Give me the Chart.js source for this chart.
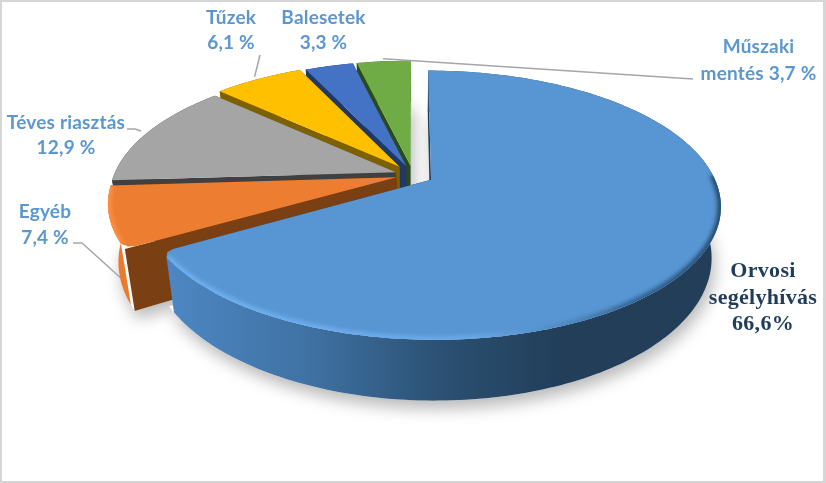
<!DOCTYPE html>
<html>
<head>
<meta charset="utf-8">
<style>
  html, body { margin: 0; padding: 0; background: #fff; }
  #wrap { width: 826px; height: 483px; box-sizing: border-box; border: 2px solid #d6d6d6; border-right-width: 3px; position: relative; overflow: hidden; }
  canvas { position: absolute; left: -2px; top: -2px; }
</style>
<script src="https://cdn.jsdelivr.net/npm/chart.js@4"></script>
</head>
<body>
<div id="wrap"><canvas id="pie" width="826" height="483"></canvas></div>
<script>
const categories = ['Orvosi segélyhívás', 'Egyéb', 'Téves riasztás', 'Tűzek', 'Balesetek', 'Műszaki mentés'];
const values = [66.6, 7.4, 12.9, 6.1, 3.3, 3.7];
const topColors = ['#5896d3', '#ed7d31', '#a5a5a5', '#ffc000', '#4472c4', '#6fac46'];
const cutColors = ['#1f3b55', '#7a3f13', '#404040', '#7f6000', '#1f3864', '#2b4a1c'];
const explode = [17, 14, 15, 19, 17, 17];
const thickness = [1, 1.14, 1, 1, 1, 1];

// text of each label, split per line
const labelLines = [
    ['Orvosi', 'segélyhívás', '66,6%'],
    ['Egyéb', '7,4 %'],
    ['Téves riasztás', '12,9 %'],
    ['Tűzek', '6,1 %'],
    ['Balesetek', '3,3 %'],
    ['Műszaki', 'mentés 3,7 %']
];

// layout of the labels, per slice: centre x, first baseline, line height
const labelBoxes = [
    [763, 277, 26.5],
    [45, 218, 26],
    [66, 129, 25],
    [231, 24, 25],
    [323.5, 24, 25],
    [758.5, 53, 27]
];
// elbow of the leader line, null when the slice has none
const leaderElbows = [
    null,
    [[73, 243], [82, 243]],
    [[127, 129], [135, 129]],
    [[260, 55]],
    null,
    [[693, 79]]
];

// view of the tilted disc
const CX = 413, CY = 175, RX = 282, RY = 128, TILT = 0.188, DEPTH = 49;
const CORNER = 0.03;

function project(u, v, z) {
    const s = 1 / (1 - TILT * v);
    return { x: CX + RX * u * s * (1 - 0.03 * z), y: CY + RY * v * s + DEPTH * z * s };
}

function slicePoints(arc, index) {
    const e = arc.options.offset / arc.outerRadius;
    const mid = (arc.startAngle + arc.endAngle) / 2;
    const du = Math.cos(mid) * e, dv = Math.sin(mid) * e;
    const at = (a, r, z) => project(r * Math.cos(a) + du, r * Math.sin(a) + dv, z * thickness[index]);
    const rim = [];
    const n = Math.ceil((arc.endAngle - arc.startAngle) / 0.02);
    for (let i = 0; i <= n; i++) {
        rim.push(arc.startAngle + (arc.endAngle - arc.startAngle) * i / n);
    }
    return { at, rim, mid };
}

function fillPoly(ctx, pts, color) {
    ctx.beginPath();
    pts.forEach((p, i) => i ? ctx.lineTo(p.x, p.y) : ctx.moveTo(p.x, p.y));
    ctx.closePath();
    ctx.fillStyle = color;
    ctx.fill();
}

function sideFill(ctx, index) {
    if (index === 0) {
        const g = ctx.createLinearGradient(172, 0, 560, 0);
        g.addColorStop(0, '#4d86c2');
        g.addColorStop(0.35, '#3f72a4');
        g.addColorStop(0.7, '#2b5072');
        g.addColorStop(1, '#223e59');
        return g;
    }
    if (index === 1) return '#ec7a2e';
    return cutColors[index];
}

function strokeRim(ctx, p, angles, style, width) {
    ctx.save();
    ctx.clip();
    ctx.filter = 'blur(2px)';
    ctx.strokeStyle = style;
    ctx.lineWidth = width;
    ctx.beginPath();
    angles.forEach((a, k) => {
        const q = p.at(a, 1, 0);
        k ? ctx.lineTo(q.x, q.y) : ctx.moveTo(q.x, q.y);
    });
    ctx.stroke();
    ctx.restore();
}

const pie3d = {
    id: 'pie3d',
    beforeDatasetDraw(chart) {
        const ctx = chart.ctx;
        const arcs = chart.getDatasetMeta(0).data;
        const order = arcs.map((a, i) => i).reverse();

        // soft shadow under the whole pie
        ctx.save();
        ctx.shadowColor = 'rgba(0,0,0,0.28)';
        ctx.shadowBlur = 16;
        ctx.shadowOffsetX = 3;
        ctx.shadowOffsetY = 8;
        order.forEach(i => {
            const p = slicePoints(arcs[i], i);
            const outline = [p.at(0, 0, 1)].concat(p.rim.map(a => p.at(a, 1, 1)));
            fillPoly(ctx, outline, '#fff');
        });
        ctx.restore();

        order.forEach(i => {
            const arc = arcs[i];
            const p = slicePoints(arc, i);
            const a0 = arc.startAngle, a1 = arc.endAngle;
            // the outer corner facing the gap is rounded off on the two big front slices
            let rim = p.rim;
            if (i === 0) rim = rim.filter(a => a < a1 - CORNER);
            if (i === 1) rim = rim.filter(a => a > a0 + CORNER);
            // cut faces
            [a0, a1].forEach(a => {
                const r = i === 0 ? 0.96 : 1;
                fillPoly(ctx, [p.at(a, 0, 0), p.at(a, r, 0), p.at(a, r, 1), p.at(a, 0, 1)], cutColors[i]);
            });
            // outer wall
            const wall = rim.map(a => p.at(a, 1, 0)).concat(rim.slice().reverse().map(a => p.at(a, 1, 1)));
            fillPoly(ctx, wall, sideFill(ctx, i));
            // top face
            let top = rim.map(a => p.at(a, 1, 0));
            if (i === 0) top = top.concat([p.at(a1 - 0.01, 0.985, 0), p.at(a1, 0.96, 0)]);
            if (i === 1) top = [p.at(a0, 0.96, 0), p.at(a0 + 0.01, 0.985, 0)].concat(top);
            fillPoly(ctx, [p.at(a0, 0, 0)].concat(top), topColors[i]);
            // rim bevel, only on the part that faces the viewer
            if (i === 0) {
                const front = rim.filter(a => Math.sin(a) > -0.05);
                const g = ctx.createLinearGradient(170, 0, 720, 0);
                g.addColorStop(0, '#70b2f2');
                g.addColorStop(0.55, '#6aaaea');
                g.addColorStop(0.72, '#4d86bd');
                g.addColorStop(0.85, '#2f5f8e');
                g.addColorStop(1, '#24486c');
                strokeRim(ctx, p, front, g, 7);
            }
            if (i === 1) strokeRim(ctx, p, rim, '#ff9247', 6);
        });
        return false;
    },
    afterDatasetsDraw(chart) {
        const ctx = chart.ctx;
        const arcs = chart.getDatasetMeta(0).data;
        // leader lines run from the elbow to the rim of the slice
        ctx.strokeStyle = '#a6a6a6';
        ctx.lineWidth = 1.5;
        leaderElbows.forEach((elbow, i) => {
            if (!elbow) return;
            const p = slicePoints(arcs[i], i);
            const end = i === 1 ? p.at(p.mid - 0.05, 1, 0.9) : p.at(p.mid, 1.03, 0);
            ctx.beginPath();
            elbow.forEach((q, k) => k ? ctx.lineTo(q[0], q[1]) : ctx.moveTo(q[0], q[1]));
            ctx.lineTo(end.x, end.y);
            ctx.stroke();
        });
        ctx.textAlign = 'center';
        ctx.textBaseline = 'alphabetic';
        labelLines.forEach((lines, i) => {
            const box = labelBoxes[i];
            ctx.font = i === 0 ? 'bold 22px "Liberation Serif"' : 'bold 19px Lato';
            ctx.letterSpacing = i === 0 ? '0.3px' : '0.2px';
            ctx.fillStyle = i === 0 ? '#1f3c5a' : '#5b96cf';
            lines.forEach((t, k) => ctx.fillText(t, box[0], box[1] + k * box[2]));
        });
    }
};

new Chart(document.getElementById('pie'), {
    type: 'pie',
    data: {
        labels: categories,
        datasets: [{ data: values, backgroundColor: topColors, offset: explode, borderWidth: 0 }]
    },
    options: {
        responsive: false,
        animation: false,
        devicePixelRatio: 1,
        plugins: { legend: { display: false }, tooltip: { enabled: false } }
    },
    plugins: [pie3d]
});
</script>
</body>
</html>
